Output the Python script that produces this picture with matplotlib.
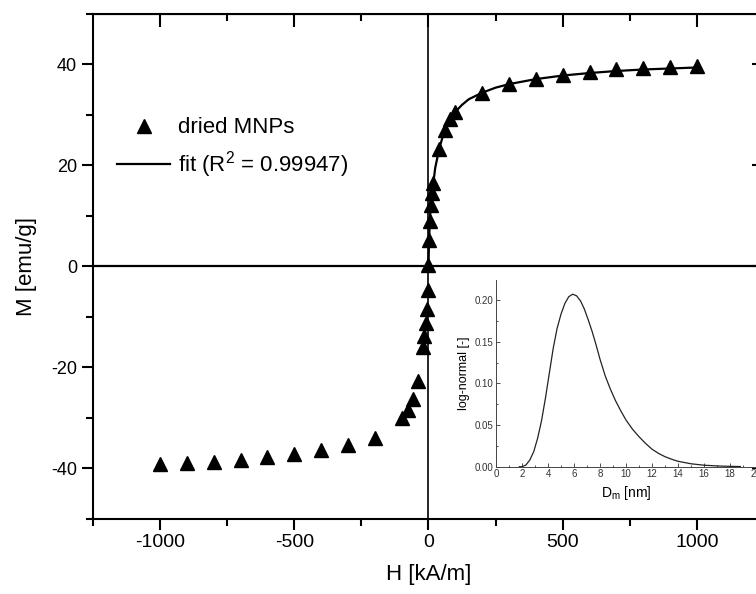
import matplotlib
matplotlib.use('Agg')
import matplotlib.pyplot as plt
from matplotlib.ticker import MultipleLocator, FormatStrFormatter

plt.rcParams['font.family'] = ['Liberation Sans', 'DejaVu Sans']
plt.rcParams['mathtext.default'] = 'regular'
plt.rcParams['axes.unicode_minus'] = False

# measured magnetisation (triangles)
h_meas = [-1000, -900, -800, -700, -600, -500, -400, -300, -200, -100, -77, -59, -40,
          -20, -15, -10, -5, -2, 0, 2, 5, 8, 12, 18, 40, 60, 80, 100,
          200, 300, 400, 500, 600, 700, 800, 900, 1000]
m_meas = [-39.2, -39.0, -38.8, -38.4, -37.9, -37.3, -36.5, -35.5, -34.0, -30.0, -28.5, -26.3, -22.8,
          -16.0, -13.9, -11.3, -8.5, -4.7, 0.2, 5.2, 8.9, 12.1, 14.5, 16.5, 23.3, 27.0, 29.1, 30.6,
          34.4, 36.1, 37.2, 37.9, 38.6, 39.0, 39.2, 39.4, 39.6]

# fit curve (positive branch)
h_fit = [0, 2, 5, 8, 12, 18, 25, 40, 60, 80, 100, 125, 150, 200, 250, 300, 400, 500,
         600, 700, 800, 900, 1000]
m_fit = [0, 5.2, 8.9, 12.1, 14.5, 16.5, 19.5, 23.3, 27.0, 29.1, 30.6, 32.0, 33.1, 34.4, 35.4,
         36.1, 37.1, 37.8, 38.3, 38.7, 39.0, 39.2, 39.4]

# size distribution for the inset
d_nm = [1.8, 2.0, 2.3, 2.6, 2.9, 3.2, 3.5, 3.8, 4.1, 4.4, 4.7, 5.0, 5.3, 5.6, 5.9, 6.2, 6.5,
        6.8, 7.1, 7.4, 7.7, 8.0, 8.4, 8.8, 9.2, 9.6, 10.0, 10.5, 11.0, 11.5, 12.0, 12.5, 13.0,
        13.5, 14.0, 15.0, 16.0, 17.0, 18.0, 18.8]
pdf = [0.0, 0.0, 0.002, 0.008, 0.018, 0.034, 0.055, 0.082, 0.112, 0.142, 0.166, 0.183, 0.196,
       0.204, 0.207, 0.205, 0.199, 0.189, 0.176, 0.162, 0.146, 0.129, 0.109, 0.093, 0.079,
       0.067, 0.056, 0.045, 0.036, 0.028, 0.021, 0.016, 0.012, 0.009, 0.0065, 0.0035, 0.0018,
       0.0009, 0.0004, 0.0002]

fig = plt.figure(figsize=(7.56, 5.94), dpi=100)
ax = fig.add_axes([93/756, 1 - 518.5/594, (764 - 93)/756, (518.5 - 14)/594])

ax.axhline(0, color='black', lw=1.6, zorder=1)
ax.axvline(0, color='black', lw=1.2, zorder=1)
ax.plot(h_meas, m_meas, '^', color='black', ms=9.5, label='dried MNPs', zorder=3)
ax.plot(h_fit, m_fit, '-', color='black', lw=1.6, label='fit (R$^{2}$ = 0.99947)', zorder=4)

ax.set_xlim(-1250, 1250)
ax.set_ylim(-50, 50)
ax.xaxis.set_major_locator(MultipleLocator(500))
ax.xaxis.set_minor_locator(MultipleLocator(250))
ax.yaxis.set_major_locator(MultipleLocator(20))
ax.yaxis.set_minor_locator(MultipleLocator(10))
for s in ax.spines.values():
    s.set_linewidth(1.5)
ax.tick_params(axis='both', which='major', direction='out', length=8, width=1.5, labelsize=14)
ax.tick_params(axis='both', which='minor', direction='out', length=5, width=1.5)
ax.tick_params(axis='y', labelsize=13)
sx = ax.secondary_xaxis('top')
sx.set_xticks([-1000, -500, 0, 500, 1000])
sx.set_xticks([-750, -250, 250, 750], minor=True)
sx.tick_params(which='major', direction='in', length=9, width=1.5, labeltop=False)
sx.tick_params(which='minor', direction='in', length=5, width=1.5)
sy = ax.secondary_yaxis('right')
sy.set_yticks([-40, -20, 0, 20, 40])
sy.set_yticks([-30, -10, 10, 30], minor=True)
sy.tick_params(which='major', direction='in', length=9, width=1.5, labelright=False)
sy.tick_params(which='minor', direction='in', length=5, width=1.5)

ax.set_xlabel('H [kA/m]', fontsize=16, labelpad=9)
ax.set_ylabel('M [emu/g]', fontsize=16, labelpad=10)

ax.legend(loc='upper left', bbox_to_anchor=(0.036, 0.795), frameon=False, fontsize=16,
          handlelength=2.4, handletextpad=0.35, labelspacing=0.5, borderpad=0, borderaxespad=0)

# inset: log-normal size distribution
ins = fig.add_axes([496/756, 1 - 466.7/594, 260/756, (466.7 - 280)/594])
ins.plot(d_nm, pdf, color='#222222', lw=0.9)
ins.set_xlim(0, 20)
ins.set_ylim(0, 0.224)
ins.spines['top'].set_visible(False)
ins.spines['right'].set_visible(False)
for s in ['left', 'bottom']:
    ins.spines[s].set_linewidth(0.7)
    ins.spines[s].set_color('#444444')
ins.xaxis.set_major_locator(MultipleLocator(2))
ins.xaxis.set_minor_locator(MultipleLocator(1))
ins.yaxis.set_major_locator(MultipleLocator(0.05))
ins.yaxis.set_minor_locator(MultipleLocator(0.025))
ins.yaxis.set_major_formatter(FormatStrFormatter('%.2f'))
ins.tick_params(which='major', direction='in', length=3, width=0.6, labelsize=7, pad=2, colors='#333333')
ins.tick_params(which='minor', direction='in', length=1.5, width=0.6, colors='#333333')
ins.set_xlabel('D$_{m}$ [nm]', fontsize=10, labelpad=3)
ins.set_ylabel('log-normal [-]', fontsize=9, labelpad=3)

fig.savefig('out.png', dpi=100)
